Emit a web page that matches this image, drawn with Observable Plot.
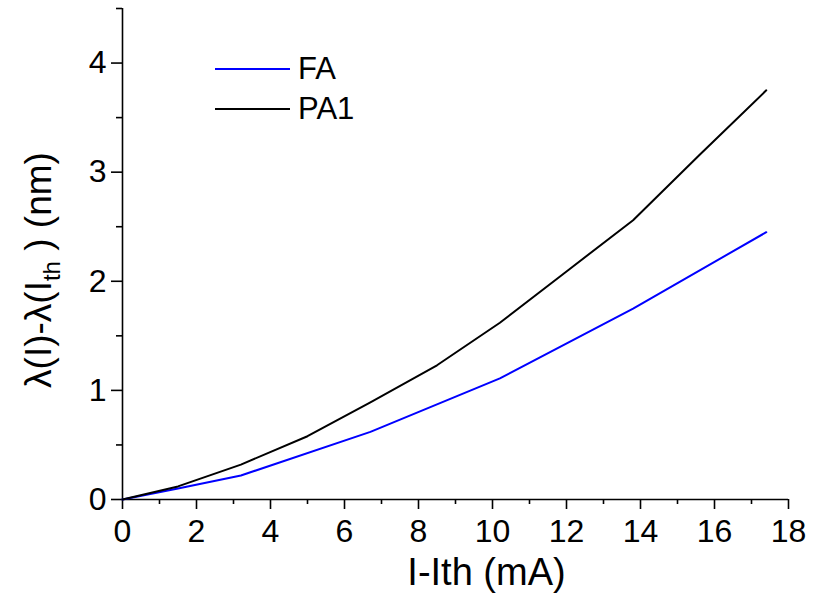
<!DOCTYPE html>
<html><head><meta charset="utf-8">
<script src="https://cdn.jsdelivr.net/npm/d3@7"></script>
<script src="https://cdn.jsdelivr.net/npm/@observablehq/plot@0.6"></script>
<style>
body{margin:0;background:#fff;}
#wrap{position:relative;width:813px;height:598px;font-family:"Liberation Sans",Arial,sans-serif;}
#legend{position:absolute;left:215px;top:49px;font-size:31px;line-height:40px;}
#legend div{display:flex;align-items:center;height:40px;}
#legend svg{margin-right:8px;}
</style>
</head><body><div id="wrap"><div id="legend"></div></div>
<script>
const seriesNames = ["FA", "PA1"];
const seriesColors = ["#0000ff", "#000000"];
const faCurrent = [0, 1.5, 3.2, 6.7, 10.2, 13.8, 17.4];
const faShift   = [0, 0.10, 0.22, 0.62, 1.11, 1.75, 2.45];
const pa1Current = [0, 1.5, 3.2, 5.0, 6.7, 8.5, 10.2, 12.0, 13.8, 15.6, 17.4];
const pa1Shift   = [0, 0.12, 0.32, 0.58, 0.89, 1.23, 1.62, 2.09, 2.56, 3.16, 3.75];
const xMajorTicks = [0, 2, 4, 6, 8, 10, 12, 14, 16, 18];
const xMinorTicks = [1, 3, 5, 7, 9, 11, 13, 15, 17];
const yMajorTicks = [0, 1, 2, 3, 4];
const yMinorTicks = [0.5, 1.5, 2.5, 3.5, 4.5];
const xTitle = "I-Ith (mA)";

const data = [
  ...faCurrent.map((x, i) => ({series: "FA", x, y: faShift[i]})),
  ...pa1Current.map((x, i) => ({series: "PA1", x, y: pa1Shift[i]}))
];

const plot = Plot.plot({
  width: 813, height: 598,
  marginLeft: 122, marginRight: 25, marginTop: 8, marginBottom: 99,
  style: {fontFamily: "'Liberation Sans', Arial, sans-serif", fontSize: "32px", background: "white", color: "black", overflow: "visible"},
  x: {domain: [0, 18]},
  y: {domain: [0, 4.5]},
  color: {domain: seriesNames, range: seriesColors},
  marks: [
    Plot.axisX(xMinorTicks, {tickSize: 5, text: null, label: null, strokeWidth: 1.6}),
    Plot.axisX(xMajorTicks, {tickSize: 10, tickPadding: 10, label: null, fontSize: 32, tickFormat: d3.format("d"), strokeWidth: 1.6}),
    Plot.axisY(yMinorTicks, {tickSize: 6, text: null, label: null, strokeWidth: 1.6}),
    Plot.axisY(yMajorTicks, {tickSize: 11, tickPadding: 5, label: null, fontSize: 32, tickFormat: d3.format("d"), strokeWidth: 1.6}),
    Plot.ruleX([0], {strokeWidth: 1.6}),
    Plot.ruleY([0], {strokeWidth: 1.6}),
    Plot.line(data, {x: "x", y: "y", z: "series", stroke: "series", strokeWidth: 2}),
    Plot.text([xTitle], {frameAnchor: "bottom", dx: 31, dy: 85, fontSize: 38, lineAnchor: "bottom"})
  ]
});
document.getElementById("wrap").appendChild(plot);

// y-axis title with subscript
const svg = d3.select(plot);
const yt = svg.append("text")
  .attr("transform", "translate(51,270) rotate(-90)")
  .attr("text-anchor", "middle")
  .attr("font-size", 37)
  .attr("font-family", "'Liberation Sans', Arial, sans-serif")
  .attr("fill", "black");
yt.append("tspan").text("λ(I)-λ(I");
yt.append("tspan").attr("font-size", 24).attr("dy", 9).text("th");
yt.append("tspan").attr("dy", -9).text(" ) (nm)");

// legend
const legend = d3.select("#legend");
seriesNames.forEach((name, i) => {
  const row = legend.append("div");
  const s = row.append("svg").attr("width", 75).attr("height", 4);
  s.append("line").attr("x1", 0).attr("x2", 75).attr("y1", 2).attr("y2", 2)
    .attr("stroke", seriesColors[i]).attr("stroke-width", 2);
  row.append("span").text(name);
});
</script>
</body></html>
